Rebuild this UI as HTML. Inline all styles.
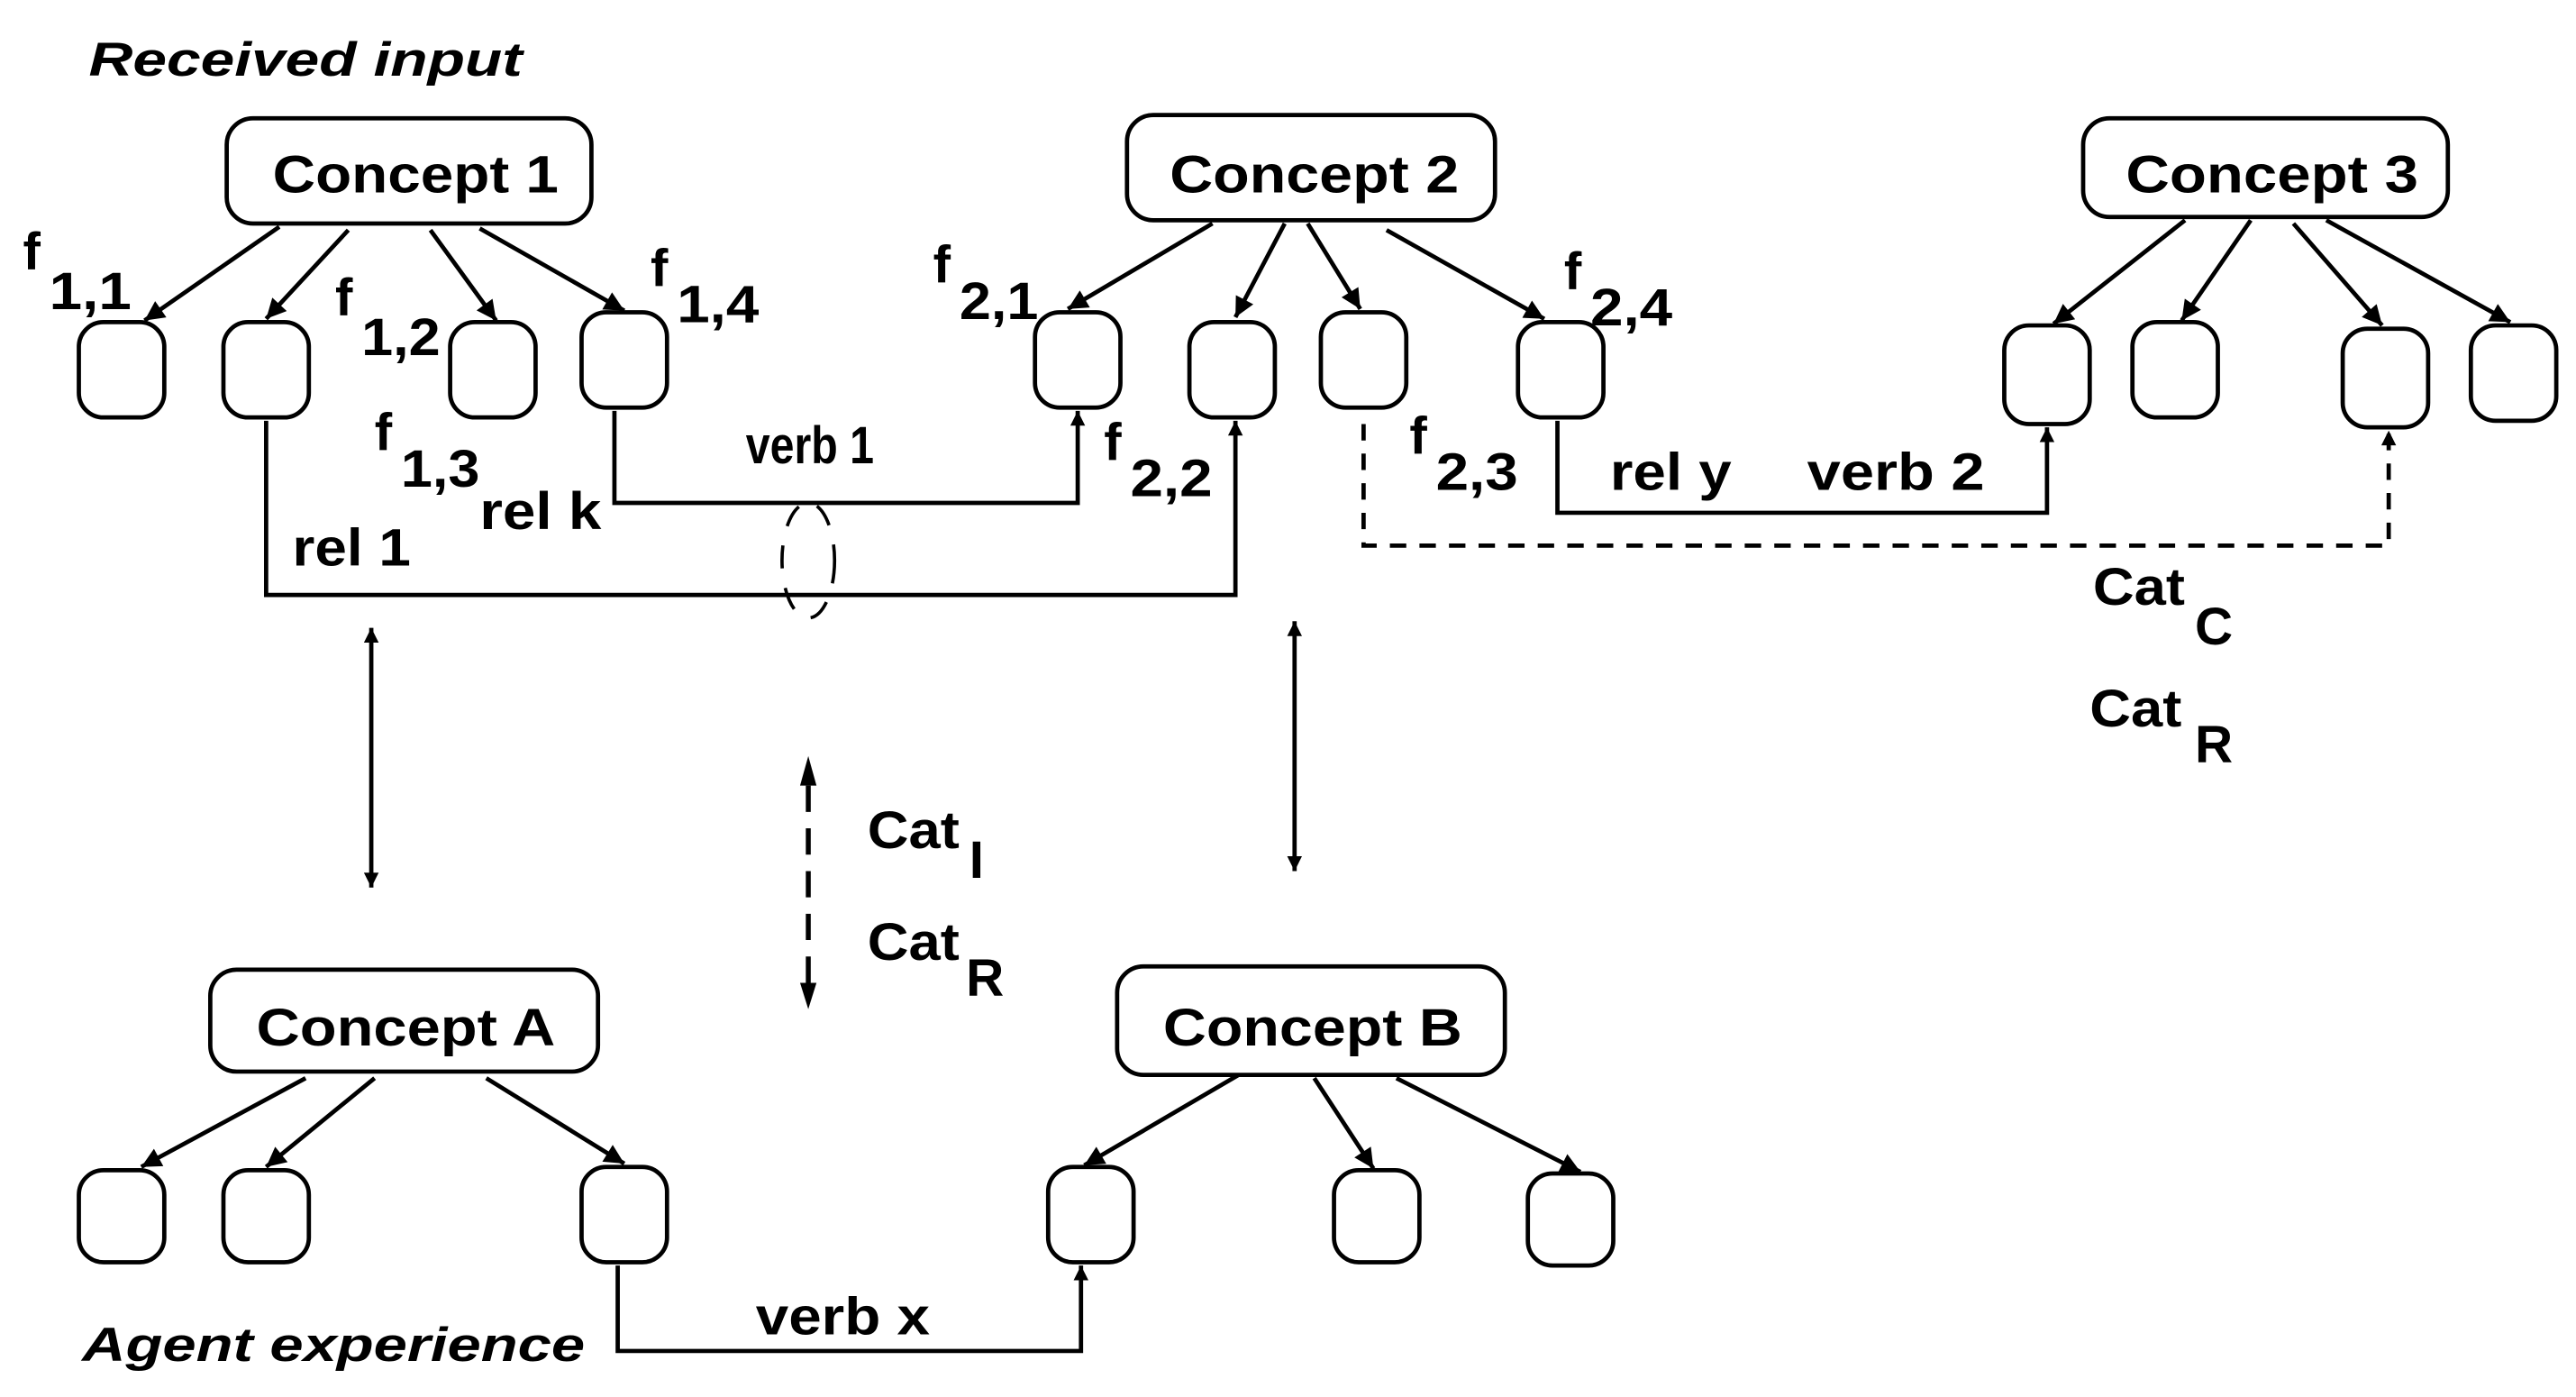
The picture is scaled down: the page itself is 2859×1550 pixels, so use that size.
<!DOCTYPE html>
<html><head><meta charset="utf-8"><style>
html,body{margin:0;padding:0;background:#fff;}
svg{display:block;}
text{font-family:"Liberation Sans",sans-serif;font-weight:bold;fill:#000;}
</style></head><body>
<svg width="2859" height="1550" viewBox="0 0 1568 850" preserveAspectRatio="none" xmlns="http://www.w3.org/2000/svg">
<defs>
<marker id="a" viewBox="0 0 10 10" refX="10" refY="5" markerWidth="16" markerHeight="12" markerUnits="userSpaceOnUse" orient="auto">
<path d="M0,0 L10,5 L0,10 z" fill="#000"/></marker>
<marker id="b" viewBox="0 0 10 10" refX="10" refY="5" markerWidth="18" markerHeight="9" markerUnits="userSpaceOnUse" orient="auto">
<path d="M0,0 L10,5 L0,10 z" fill="#000"/></marker>
<marker id="bs" viewBox="0 0 10 10" refX="0" refY="5" markerWidth="18" markerHeight="9" markerUnits="userSpaceOnUse" orient="auto">
<path d="M10,0 L0,5 L10,10 z" fill="#000"/></marker>
</defs>
<g fill="none" stroke="#000" stroke-width="2.6">
<rect x="138" y="72" width="222" height="64" rx="16"/>
<rect x="686" y="70" width="224" height="64" rx="16"/>
<rect x="1268" y="72" width="222" height="60" rx="16"/>
<rect x="128" y="590" width="236" height="62" rx="16"/>
<rect x="680" y="588" width="236" height="66" rx="16"/>
<g>
<rect x="48" y="196" width="52" height="58" rx="15"/>
<rect x="136" y="196" width="52" height="58" rx="15"/>
<rect x="274" y="196" width="52" height="58" rx="15"/>
<rect x="354" y="190" width="52" height="58" rx="15"/>
<rect x="630" y="190" width="52" height="58" rx="15"/>
<rect x="724" y="196" width="52" height="58" rx="15"/>
<rect x="804" y="190" width="52" height="58" rx="15"/>
<rect x="924" y="196" width="52" height="58" rx="15"/>
<rect x="1220" y="198" width="52" height="60" rx="15"/>
<rect x="1298" y="196" width="52" height="58" rx="15"/>
<rect x="1426" y="200" width="52" height="60" rx="15"/>
<rect x="1504" y="198" width="52" height="58" rx="15"/>
<rect x="48" y="712" width="52" height="56" rx="15"/>
<rect x="136" y="712" width="52" height="56" rx="15"/>
<rect x="354" y="710" width="52" height="58" rx="15"/>
<rect x="638" y="710" width="52" height="58" rx="15"/>
<rect x="812" y="712" width="52" height="56" rx="15"/>
<rect x="930" y="714" width="52" height="56" rx="15"/>
</g>
<g marker-end="url(#a)">
<line x1="170" y1="138" x2="88" y2="195"/>
<line x1="212" y1="140" x2="162" y2="194"/>
<line x1="262" y1="140" x2="302" y2="195"/>
<line x1="292" y1="139" x2="380" y2="189"/>
<line x1="738" y1="136" x2="650" y2="188"/>
<line x1="782" y1="136" x2="752" y2="193"/>
<line x1="796" y1="136" x2="828" y2="188"/>
<line x1="844" y1="140" x2="940" y2="194"/>
<line x1="1330" y1="134" x2="1250" y2="197"/>
<line x1="1370" y1="134" x2="1328" y2="195"/>
<line x1="1396" y1="136" x2="1450" y2="198"/>
<line x1="1416" y1="134" x2="1528" y2="196"/>
<line x1="186" y1="656" x2="86" y2="710"/>
<line x1="228" y1="656" x2="162" y2="710"/>
<line x1="296" y1="656" x2="380" y2="708"/>
<line x1="754" y1="654" x2="660" y2="709"/>
<line x1="800" y1="656" x2="836" y2="711"/>
<line x1="850" y1="656" x2="962" y2="713"/>
</g>
<g marker-end="url(#b)">
<polyline points="162,256 162,362 752,362 752,256"/>
<polyline points="374,250 374,306 656,306 656,250"/>
<polyline points="948,256 948,312 1246,312 1246,260"/>
<polyline points="376,770 376,822 658,822 658,770"/>
<polyline points="830,258 830,332 1454,332 1454,262" stroke-dasharray="10,8"/>
</g>
<line x1="226" y1="382" x2="226" y2="540" marker-start="url(#bs)" marker-end="url(#b)"/>
<line x1="788" y1="378" x2="788" y2="530" marker-start="url(#bs)" marker-end="url(#b)"/>
<line x1="492" y1="478" x2="492" y2="598" stroke-width="3" stroke-dasharray="16,10"/>
<path d="M487,478 L497,478 L492,460 z" fill="#000" stroke="none"/>
<path d="M487,598 L497,598 L492,614 z" fill="#000" stroke="none"/>
<ellipse cx="492" cy="341" rx="16" ry="35" stroke-width="2" stroke-dasharray="14,12"/>
</g>
<g font-size="32">
<text x="166" y="117" textLength="174" lengthAdjust="spacingAndGlyphs">Concept 1</text>
<text x="712" y="117" textLength="176" lengthAdjust="spacingAndGlyphs">Concept 2</text>
<text x="1294" y="117" textLength="178" lengthAdjust="spacingAndGlyphs">Concept 3</text>
<text x="156" y="636" textLength="182" lengthAdjust="spacingAndGlyphs">Concept A</text>
<text x="708" y="636" textLength="182" lengthAdjust="spacingAndGlyphs">Concept B</text>
</g>
<g font-size="29" font-style="italic">
<text x="54" y="46" textLength="264" lengthAdjust="spacingAndGlyphs">Received input</text>
<text x="50" y="828" textLength="306" lengthAdjust="spacingAndGlyphs">Agent experience</text>
</g>
<g font-size="32" lengthAdjust="spacingAndGlyphs">
<text x="14" y="164">f</text><text x="30" y="188" textLength="50" lengthAdjust="spacingAndGlyphs">1,1</text>
<text x="204" y="192">f</text><text x="220" y="216" textLength="48" lengthAdjust="spacingAndGlyphs">1,2</text>
<text x="228" y="274">f</text><text x="244" y="296" textLength="48" lengthAdjust="spacingAndGlyphs">1,3</text>
<text x="396" y="174">f</text><text x="412" y="196" textLength="50" lengthAdjust="spacingAndGlyphs">1,4</text>
<text x="568" y="172">f</text><text x="584" y="194" textLength="48" lengthAdjust="spacingAndGlyphs">2,1</text>
<text x="672" y="280">f</text><text x="688" y="302" textLength="50" lengthAdjust="spacingAndGlyphs">2,2</text>
<text x="858" y="276">f</text><text x="874" y="298" textLength="50" lengthAdjust="spacingAndGlyphs">2,3</text>
<text x="952" y="176">f</text><text x="968" y="198" textLength="50" lengthAdjust="spacingAndGlyphs">2,4</text>
<text x="292" y="322" textLength="74" lengthAdjust="spacingAndGlyphs">rel k</text>
<text x="178" y="344" textLength="72" lengthAdjust="spacingAndGlyphs">rel 1</text>
<text x="454" y="282" textLength="78" lengthAdjust="spacingAndGlyphs">verb 1</text>
<text x="980" y="298" textLength="74" lengthAdjust="spacingAndGlyphs">rel y</text>
<text x="1100" y="298" textLength="108" lengthAdjust="spacingAndGlyphs">verb 2</text>
<text x="460" y="812" textLength="106" lengthAdjust="spacingAndGlyphs">verb x</text>
<text x="1274" y="368" textLength="56" lengthAdjust="spacingAndGlyphs">Cat</text><text x="1336" y="392">C</text>
<text x="1272" y="442" textLength="56" lengthAdjust="spacingAndGlyphs">Cat</text><text x="1336" y="464">R</text>
<text x="528" y="516" textLength="56" lengthAdjust="spacingAndGlyphs">Cat</text><text x="590" y="534">I</text>
<text x="528" y="584" textLength="56" lengthAdjust="spacingAndGlyphs">Cat</text><text x="588" y="606">R</text>
</g>
</svg>
</body></html>
